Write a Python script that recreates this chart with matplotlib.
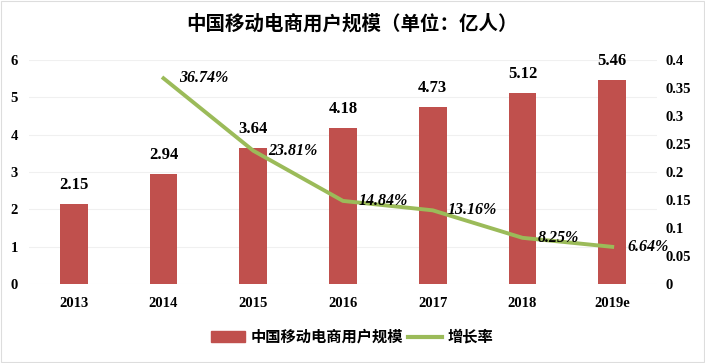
import matplotlib
matplotlib.use("Agg")
import matplotlib.pyplot as plt
from matplotlib.patches import Rectangle
from matplotlib.lines import Line2D

years = ["2013", "2014", "2015", "2016", "2017", "2018", "2019e"]
users = [2.15, 2.94, 3.64, 4.18, 4.73, 5.12, 5.46]
growth_years = ["2014", "2015", "2016", "2017", "2018", "2019e"]
growth = [0.3674, 0.2381, 0.1484, 0.1316, 0.0825, 0.0664]
growth_labels = ["36.74%", "23.81%", "14.84%", "13.16%", "8.25%", "6.64%"]
left_ticks = [0, 1, 2, 3, 4, 5, 6]
right_ticks = [0, 0.05, 0.1, 0.15, 0.2, 0.25, 0.3, 0.35, 0.4]
right_tick_labels = ["0", "0.05", "0.1", "0.15", "0.2", "0.25", "0.3", "0.35", "0.4"]

BAR = "#C0504D"
LINE = "#9BBB59"
SERIF = ["Liberation Serif", "DejaVu Serif"]
CJK = ["Noto Sans CJK SC", "DejaVu Sans"]

fig = plt.figure(figsize=(7.05, 3.63), dpi=100)
fig.patches.append(Rectangle((0.002, 0.003), 0.996, 0.994, transform=fig.transFigure,
                             fill=False, edgecolor="#DDDDDD", linewidth=0.8))
ax = fig.add_axes([0.041, 0.2176, 0.891, 0.617])
ax2 = ax.twinx()

x = list(range(len(years)))
ax.bar(x, users, width=0.31, color=BAR, zorder=2)
ax.set_xlim(-0.5, len(years) - 0.5)
ax.set_ylim(0, 6)
ax.set_yticks(left_ticks)
ax.grid(axis="y", color="#F0F0F0", linewidth=0.8, zorder=0)
ax.set_axisbelow(True)
for s in ax.spines.values():
    s.set_visible(False)
for s in ax2.spines.values():
    s.set_visible(False)
ax.tick_params(length=0)
ax2.tick_params(length=0)
ax.set_xticks(x)
ax.set_xticklabels(years)
for lab in ax.get_xticklabels() + ax.get_yticklabels():
    lab.set_fontfamily(SERIF)
    lab.set_fontweight("bold")
    lab.set_fontsize(10.5)
ax.tick_params(axis="x", pad=9)
ax.tick_params(axis="y", pad=8)

for xi, v in zip(x, users):
    ax.annotate(f"{v:.2f}", (xi, v), xytext=(0, 8), textcoords="offset points",
                ha="center", va="bottom", fontfamily=SERIF, fontweight="bold", fontsize=12)

gx = [years.index(y) for y in growth_years]
ax2.plot(gx, growth, color=LINE, linewidth=2.8, zorder=3)
ax2.set_ylim(0, 0.4)
ax2.set_yticks(right_ticks)
ax2.set_yticklabels(right_tick_labels)
for lab in ax2.get_yticklabels():
    lab.set_fontfamily(SERIF)
    lab.set_fontweight("bold")
    lab.set_fontsize(10.5)
ax2.tick_params(axis="y", pad=6)
for xi, v, t in zip(gx, growth, growth_labels):
    ax2.annotate(t, (xi, v), xytext=(11, 0), textcoords="offset points",
                 ha="left", va="center", fontfamily=SERIF, fontweight="bold",
                 fontstyle="italic", fontsize=11.5)

fig.text(0.5, 0.935, "中国移动电商用户规模（单位：亿人）", ha="center", va="center",
         fontfamily=CJK, fontweight="bold", fontsize=14)

handles = [Rectangle((0, 0), 1, 1, color=BAR),
           Line2D([0], [0], color=LINE, linewidth=3)]
fig.legend(handles, ["中国移动电商用户规模", "增长率"], loc="center",
           bbox_to_anchor=(0.5, 0.072), ncol=2, frameon=False,
           prop={"family": CJK, "size": 11, "weight": "bold"}, handlelength=2.2,
           handletextpad=0.4, columnspacing=0.3)

fig.savefig("out.png", dpi=100)
